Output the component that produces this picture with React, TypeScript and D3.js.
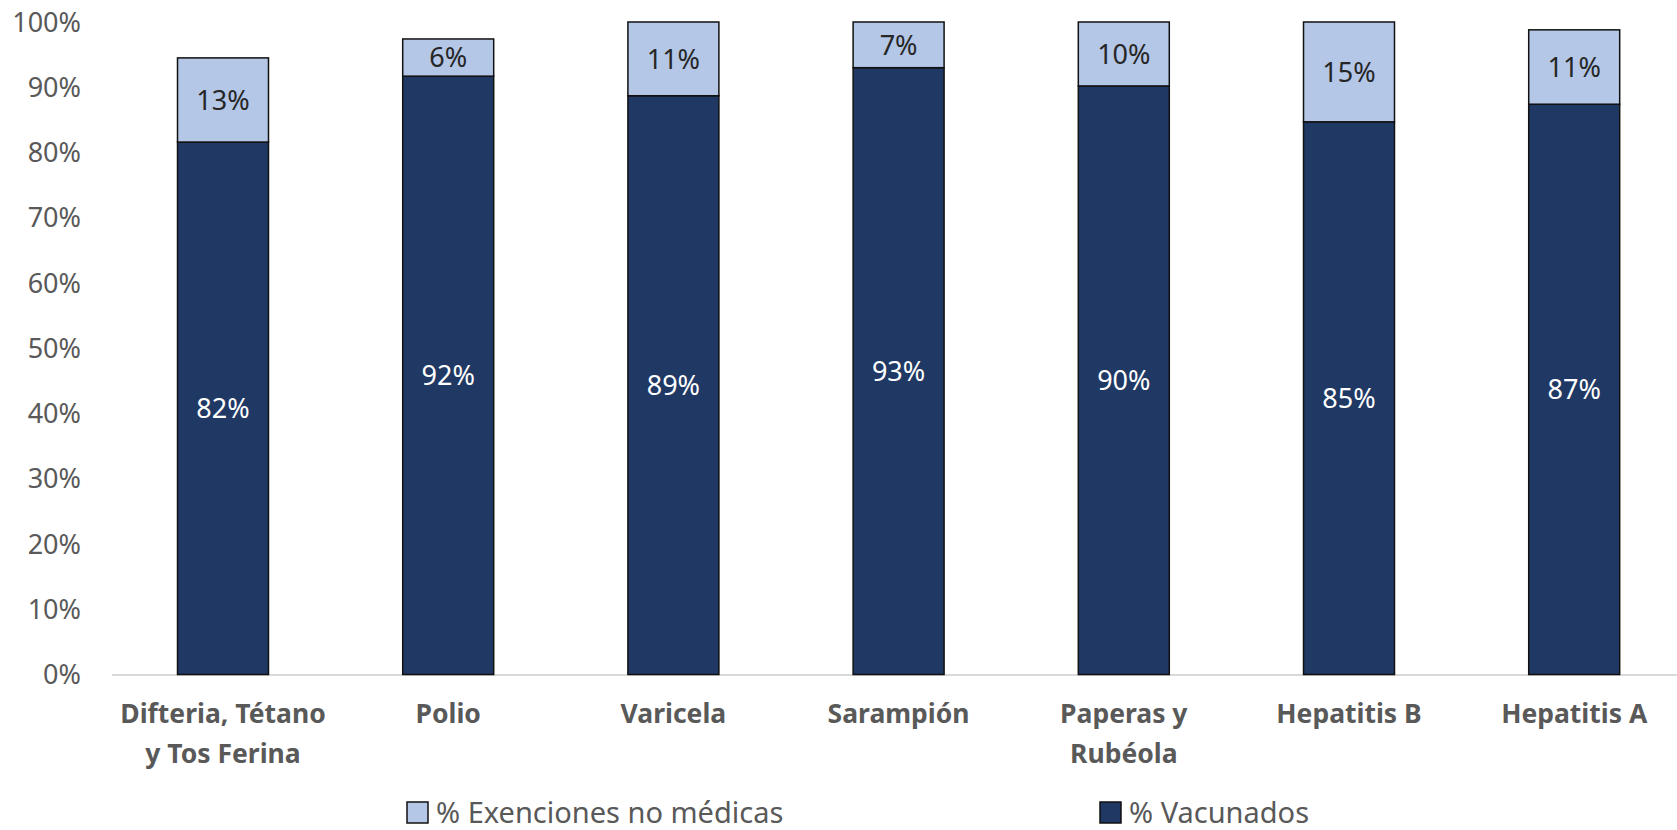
import React, { useEffect, useRef } from 'react';
import * as d3 from 'd3';

const categories = [
  'Difteria, Tétano\ny Tos Ferina',
  'Polio',
  'Varicela',
  'Sarampión',
  'Paperas y\nRubéola',
  'Hepatitis B',
  'Hepatitis A',
];
const vacunados = [81.6, 91.7, 88.7, 93.0, 90.2, 84.7, 87.4];
const exenciones = [12.9, 5.7, 11.3, 7.0, 9.8, 15.3, 11.4];
const yTicks = [0, 10, 20, 30, 40, 50, 60, 70, 80, 90, 100];
const seriesNames = ['% Exenciones no médicas', '% Vacunados'];

const W = 1677;
const H = 830;
const DARK = '#203864';
const LIGHT = '#B4C7E7';
const FONT = '"Noto Sans", sans-serif';

function App() {
  const svgRef = useRef<SVGSVGElement>(null);

  useEffect(() => {
    document.body.style.margin = '0';
    const svg = d3.select(svgRef.current);
    svg.selectAll('*').remove();

    const x = d3
      .scaleBand<string>()
      .domain(categories)
      .range([110.4, 1686.8])
      .paddingInner(0.596)
      .paddingOuter(0.298);
    const y = d3.scaleLinear().domain([0, 100]).range([674.5, 22]);

    // y tick labels
    svg
      .append('g')
      .selectAll('text')
      .data(yTicks)
      .join('text')
      .attr('x', 81)
      .attr('y', d => y(d))
      .attr('dy', '0.36em')
      .attr('text-anchor', 'end')
      .attr('font-family', FONT)
      .attr('font-size', 27)
      .attr('fill', '#595959')
      .text(d => `${d}%`);

    // baseline
    svg
      .append('line')
      .attr('x1', 112)
      .attr('x2', W)
      .attr('y1', y(0) + 0.5)
      .attr('y2', y(0) + 0.5)
      .attr('stroke', '#d9d9d9')
      .attr('stroke-width', 2);

    const bars = svg
      .append('g')
      .selectAll('g')
      .data(categories)
      .join('g');

    // vacunados segment
    bars
      .append('rect')
      .attr('x', d => x(d)!)
      .attr('width', x.bandwidth())
      .attr('y', (d, i) => y(vacunados[i]))
      .attr('height', (d, i) => y(0) - y(vacunados[i]))
      .attr('fill', DARK)
      .attr('stroke', '#111')
      .attr('stroke-width', 1.5);

    // exenciones segment
    bars
      .append('rect')
      .attr('x', d => x(d)!)
      .attr('width', x.bandwidth())
      .attr('y', (d, i) => y(vacunados[i] + exenciones[i]))
      .attr('height', (d, i) => y(vacunados[i]) - y(vacunados[i] + exenciones[i]))
      .attr('fill', LIGHT)
      .attr('stroke', '#111')
      .attr('stroke-width', 1.5);

    bars
      .append('text')
      .attr('x', d => x(d)! + x.bandwidth() / 2)
      .attr('y', (d, i) => y(vacunados[i] / 2))
      .attr('dy', '0.36em')
      .attr('text-anchor', 'middle')
      .attr('font-family', FONT)
      .attr('font-size', 27)
      .attr('fill', '#fff')
      .text((d, i) => `${Math.round(vacunados[i])}%`);

    bars
      .append('text')
      .attr('x', d => x(d)! + x.bandwidth() / 2)
      .attr('y', (d, i) => y(vacunados[i] + exenciones[i] / 2))
      .attr('dy', '0.36em')
      .attr('text-anchor', 'middle')
      .attr('font-family', FONT)
      .attr('font-size', 27)
      .attr('fill', '#262626')
      .text((d, i) => `${Math.round(exenciones[i])}%`);

    // category labels
    const catText = svg
      .append('g')
      .selectAll('text')
      .data(categories)
      .join('text')
      .attr('text-anchor', 'middle')
      .attr('font-family', FONT)
      .attr('font-weight', 'bold')
      .attr('font-size', 26.5)
      .attr('fill', '#595959');
    catText
      .selectAll('tspan')
      .data(d => d.split('\n').map(line => ({ line, c: d })))
      .join('tspan')
      .attr('x', d => x(d.c)! + x.bandwidth() / 2)
      .attr('y', (d, i) => 723 + i * 40)
      .text(d => d.line);

    // legend
    const legendX = [407, 1100];
    const legendColors = [LIGHT, DARK];
    const lg = svg
      .append('g')
      .selectAll('g')
      .data(seriesNames)
      .join('g')
      .attr('transform', (d, i) => `translate(${legendX[i]}, 802)`);
    lg.append('rect')
      .attr('width', 21)
      .attr('height', 21)
      .attr('fill', (d, i) => legendColors[i])
      .attr('stroke', '#111')
      .attr('stroke-width', 1.5);
    lg.append('text')
      .attr('x', 29)
      .attr('y', 21)
      .attr('font-family', FONT)
      .attr('font-size', 29)
      .attr('fill', '#595959')
      .text(d => d);
  }, []);

  return <svg ref={svgRef} width={W} height={H} style={{ display: 'block' }} />;
}

export default App;
